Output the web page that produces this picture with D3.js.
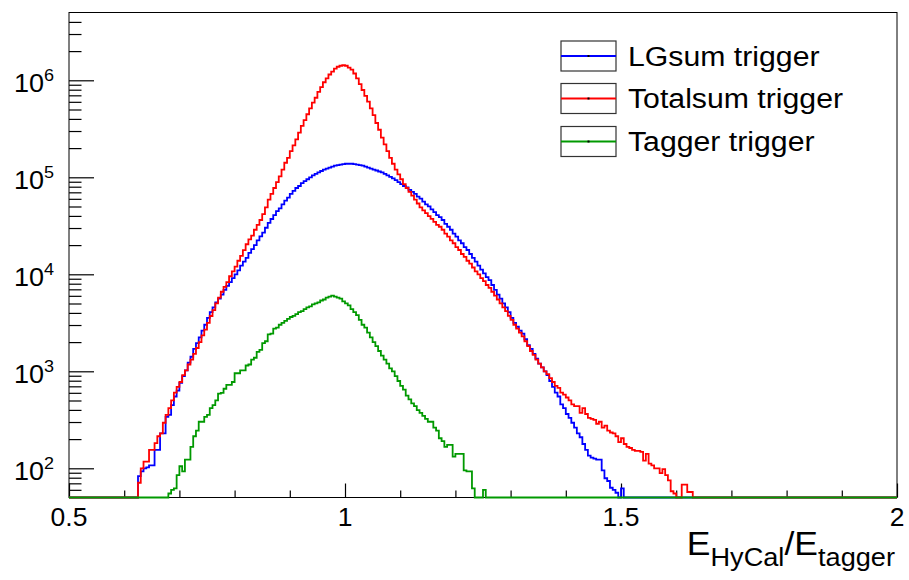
<!DOCTYPE html>
<html>
<head>
<meta charset="utf-8">
<script src="https://cdn.jsdelivr.net/npm/d3@7"></script>
<style>
  body { margin: 0; background: #fff; }
  svg { display: block; }
  text { font-family: "Liberation Sans", Arial, Helvetica, sans-serif; fill: #000; }
</style>
</head>
<body>
<svg id="svg" width="909" height="580"></svg>
<script>
// binning of the three histograms
const binWidth = 0.005;
const xRange = [0.5, 2.0];
const yRange = [50, 5e6];

const xMajorTicks = [0.5, 1, 1.5, 2];
const xTickLabels = ["0.5", "1", "1.5", "2"];
const xMinorTicks = [0.6, 0.7, 0.8, 0.9, 1.1, 1.2, 1.3, 1.4, 1.6, 1.7, 1.8, 1.9];
const yDecades = [2, 3, 4, 5, 6];

const seriesNames = ["LGsum trigger", "Totalsum trigger", "Tagger trigger"];
const seriesColors = ["#0000ff", "#ff0000", "#009900"];

// LGsum trigger, first filled bin starts at 0.625
const lgsumFirst = 0.625;
const lgsum = [
  83, 93, 100, 102, 107, 107, 155, 155, 229, 229,
  339, 355, 447, 550, 631, 759, 891, 1023, 1230, 1413,
  1700, 1950, 2240, 2630, 3020, 3550, 4070, 4570, 5130, 5620,
  6170, 6920, 7590, 8320, 9120, 10000, 10960, 12300, 13490, 14790,
  16600, 18200, 19950, 22390, 24550, 26900, 30200, 33900, 37150, 40700,
  44700, 47900, 52500, 57500, 61700, 67600, 72400, 77600, 81300, 87100,
  91200, 95500, 100000, 104700, 108400, 112200, 116100, 120200, 123000, 125900,
  128800, 131800, 133400, 134900, 136500, 138000, 138000, 138000, 136500, 134900,
  133400, 131800, 128800, 125900, 123000, 120200, 117500, 114800, 112200, 108400,
  104700, 101200, 97700, 93300, 89100, 85100, 81300, 78500, 74100, 70800,
  67600, 63100, 60300, 56200, 52500, 50100, 46800, 43700, 40700, 38900,
  36300, 33100, 30900, 28800, 26300, 24500, 22400, 20900, 19100, 17800,
  16200, 14800, 13500, 12300, 11200, 10200, 9330, 8710, 7760, 6920,
  6170, 5620, 5010, 4570, 4070, 3550, 3160, 2880, 2630, 2450,
  2140, 1860, 1700, 1510, 1350, 1200, 1100, 1000, 912, 794,
  692, 603, 550, 457, 417, 363, 331, 295, 263, 229,
  209, 178, 155, 135, 129, 126, 123, 123, 95, 79,
  74, 63, 60, 56, 0, 62
];

// Totalsum trigger, first filled bin starts at 0.625
const totalsumFirst = 0.625;
const totalsum = [
  71, 100, 117, 117, 155, 155, 182, 214, 229, 295,
  355, 417, 501, 603, 692, 776, 912, 1023, 1175, 1318,
  1514, 1738, 1995, 2344, 2692, 3162, 3715, 4266, 5012, 5754,
  6607, 7413, 8318, 9550, 10715, 12023, 13800, 15490, 17780, 20400,
  22900, 25100, 28800, 32400, 36300, 41700, 49000, 58900, 67600, 77600,
  89100, 102300, 120200, 141300, 158500, 186200, 213800, 245500, 288400, 338800,
  389000, 446700, 512900, 588800, 660700, 758600, 851100, 955000, 1047000, 1148000,
  1230000, 1318000, 1380000, 1413000, 1429000, 1413000, 1349000, 1288000, 1175000, 1047000,
  912000, 794300, 691800, 602600, 512900, 436500, 363100, 309000, 257000, 218800,
  186200, 158500, 138000, 120200, 107200, 95500, 85100, 77600, 70800, 64600,
  58900, 53700, 49000, 45700, 42700, 39800, 37200, 34700, 32400, 30900,
  28800, 26300, 24500, 22400, 20900, 19100, 17800, 16200, 15100, 13800,
  12900, 11750, 10700, 10000, 9120, 8510, 7760, 7240, 6610, 6030,
  5500, 5010, 4570, 4170, 3720, 3390, 3020, 2750, 2510, 2290,
  2040, 1820, 1620, 1480, 1320, 1200, 1100, 1000, 933, 851,
  776, 708, 676, 603, 575, 537, 501, 457, 437, 437,
  372, 417, 363, 331, 324, 316, 288, 302, 263, 275,
  245, 234, 229, 214, 186, 204, 178, 166, 162, 155,
  151, 151, 148, 120, 141, 112, 107, 100, 100, 89,
  98, 85, 75, 58, 55, 40, 45, 68, 68, 57,
  57
];

// Tagger trigger, first filled bin starts at 0.68
const taggerFirst = 0.68;
const tagger = [
  55, 60, 62, 85, 105, 93, 123, 123, 166,
  214, 245, 302, 302, 339, 355, 417, 447, 501, 589,
  600, 661, 724, 724, 776, 955, 955, 1023, 1023, 1148,
  1175, 1318, 1380, 1585, 1660, 1950, 2040, 2400, 2450, 2750,
  2820, 3020, 3160, 3310, 3470, 3630, 3720, 3890, 4070, 4170,
  4370, 4570, 4680, 4900, 5010, 5130, 5370, 5500, 5750, 5900,
  6030, 5890, 5750, 5620, 5250, 5010, 4790, 4370, 4070, 3800,
  3390, 3020, 2820, 2510, 2240, 2000, 1820, 1620, 1450, 1320,
  1200, 1070, 1000, 891, 794, 708, 646, 562, 513, 468,
  437, 398, 372, 347, 324, 302, 302, 263, 245, 204,
  191, 166, 174, 174, 132, 141, 141, 141, 95, 93,
  93, 62, 0, 0, 0, 60
];

const svg = d3.select("#svg");
const margin = {top: 12.5, right: 12, bottom: 82.5, left: 69};
const W = +svg.attr("width"), H = +svg.attr("height");

const x = d3.scaleLinear().domain(xRange).range([margin.left, W - margin.right]);
const y = d3.scaleLog().domain(yRange).range([H - margin.bottom, margin.top]);

// frame
svg.append("rect")
  .attr("x", x(xRange[0])).attr("y", y(yRange[1]))
  .attr("width", x(xRange[1]) - x(xRange[0]))
  .attr("height", y(yRange[0]) - y(yRange[1]))
  .attr("fill", "none").attr("stroke", "#000").attr("stroke-width", 1);

// y ticks (inward), major at decades, minor at 2..9
let yMinor = [];
for (let d = 1; d <= 6; d++) {
  for (let k = 2; k <= 9; k++) {
    const v = k * Math.pow(10, d);
    if (v > yRange[0] && v < yRange[1]) yMinor.push(v);
  }
}
const yMajor = yDecades.map(d => Math.pow(10, d));

svg.append("g")
  .attr("transform", `translate(${margin.left},0)`)
  .call(d3.axisLeft(y).tickValues(yMinor).tickSize(-12.5).tickFormat(""))
  .call(g => g.select(".domain").remove());
svg.append("g")
  .attr("transform", `translate(${margin.left},0)`)
  .call(d3.axisLeft(y).tickValues(yMajor).tickSize(-25).tickFormat(""))
  .call(g => g.select(".domain").remove());
svg.selectAll(".tick line").attr("stroke", "#000").attr("stroke-width", 1);

// x ticks (inward)
svg.append("g")
  .attr("transform", `translate(0,${y(yRange[0])})`)
  .call(d3.axisBottom(x).tickValues(xMinorTicks).tickSize(-7).tickFormat(""))
  .call(g => g.select(".domain").remove());
svg.append("g")
  .attr("transform", `translate(0,${y(yRange[0])})`)
  .call(d3.axisBottom(x).tickValues(xMajorTicks).tickSize(-14).tickFormat(""))
  .call(g => g.select(".domain").remove());
svg.selectAll(".tick line").attr("stroke", "#000").attr("stroke-width", 1.2);

// helper: text with a slight horizontal stretch
function stretched(px, py, sx) {
  return svg.append("text")
    .attr("transform", `translate(${px},${py}) scale(${sx},1)`);
}

// y labels 10^n
yDecades.forEach(d => {
  const t = stretched(54, y(Math.pow(10, d)) + 12, 1.06)
    .attr("text-anchor", "end").style("font-size", "25.5px");
  t.append("tspan").text("10");
  t.append("tspan").attr("dy", -11.5).style("font-size", "17px").text(d);
});

// x labels
xMajorTicks.forEach((v, i) => {
  stretched(x(v), 526, 1.06).attr("text-anchor", "middle").style("font-size", "25px").text(xTickLabels[i]);
});

// axis title
const title = stretched(895, 555, 1.045).attr("text-anchor", "end").style("font-size", "34px");
title.append("tspan").text("E");
title.append("tspan").attr("dy", 11).style("font-size", "26px").text("HyCal");
title.append("tspan").attr("dy", -11).text("/E");
title.append("tspan").attr("dy", 11).style("font-size", "26px").text("tagger");

// histograms
const nBins = Math.round((xRange[1] - xRange[0]) / binWidth);
function fullBins(first, vals) {
  const arr = new Array(nBins).fill(0);
  const off = Math.round((first - xRange[0]) / binWidth);
  vals.forEach((v, i) => { arr[off + i] = v; });
  const pts = arr.map((v, i) => ({x: xRange[0] + i * binWidth, v}));
  pts.push({x: xRange[1], v: arr[nBins - 1]});
  return pts;
}
const line = d3.line()
  .x(d => x(d.x))
  .y(d => y(Math.max(d.v, yRange[0])))
  .curve(d3.curveStepAfter);

const hists = [fullBins(lgsumFirst, lgsum), fullBins(totalsumFirst, totalsum), fullBins(taggerFirst, tagger)];
svg.selectAll(".hist")
  .data(hists)
  .enter()
  .append("path")
  .attr("class", "hist")
  .attr("fill", "none")
  .attr("stroke", (d, i) => seriesColors[i])
  .attr("stroke-width", 1.8)
  .attr("d", line);

// legend
const legendY = [56, 98.5, 141.5];
seriesNames.forEach((name, i) => {
  const cy = legendY[i];
  svg.append("rect")
    .attr("x", 561).attr("y", cy - 15).attr("width", 55).attr("height", 30)
    .attr("fill", "none").attr("stroke", "#333").attr("stroke-width", 1.2);
  svg.append("line")
    .attr("x1", 561).attr("x2", 616).attr("y1", cy).attr("y2", cy)
    .attr("stroke", seriesColors[i]).attr("stroke-width", 2);
  svg.append("rect")
    .attr("x", 587.5).attr("y", cy - 1).attr("width", 2).attr("height", 2).attr("fill", "#000");
  stretched(628, cy + 9.5, 1.12).style("font-size", "27px").text(name);
});
</script>
</body>
</html>
